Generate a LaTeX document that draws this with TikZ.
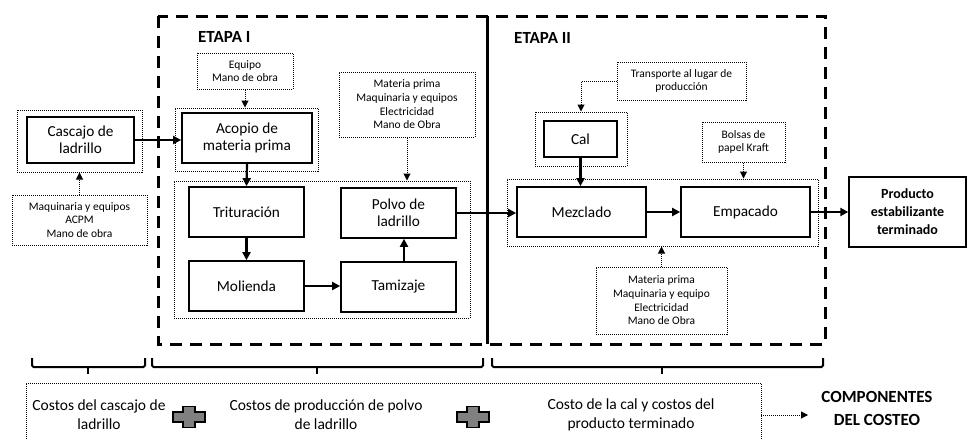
\documentclass[tikz,border=0pt]{standalone}
\usepackage{fontspec}
\setmainfont{Carlito}
\usetikzlibrary{arrows.meta}
\begin{document}
\begin{tikzpicture}[x=1pt,y=-1pt,
  box/.style={draw, line width=1.7pt, fill=white, align=center, inner sep=0pt, font=\fontsize{15.3}{17}\selectfont},
  bbox/.style={box, line width=1.4pt, font=\bfseries\fontsize{14}{18}\selectfont},
  dbox/.style={draw, line width=1pt, dash pattern=on 1pt off 1pt, align=center, inner sep=0pt, font=\fontsize{11.5}{13.7}\selectfont},
  grp/.style={draw, line width=1pt, dash pattern=on 1pt off 1pt, inner sep=0pt},
  arr/.style={line width=2.2pt, -{Triangle[length=8pt,width=8pt]}},
  darr/.style={line width=1pt, dash pattern=on 1pt off 1pt, -{Triangle[length=7pt,width=7pt]}},
  frame/.style={line width=3pt, dash pattern=on 12pt off 8pt},
  brace/.style={line width=2pt, rounded corners=1.5pt},
  lbl/.style={align=center, inner sep=0pt, font=\fontsize{15.5}{19}\selectfont},
  plussign/.pic={\filldraw[fill=gray, line width=1.2pt] (-16,-5)--(-6,-5)--(-6,-10.5)--(6,-10.5)--(6,-5)--(16,-5)--(16,5)--(6,5)--(6,10.5)--(-6,10.5)--(-6,5)--(-16,5)--cycle;}
]
\useasboundingbox (0,0) rectangle (973,439);

% stage frames
\draw[frame] (158,16) rectangle (825,344);
\draw[line width=3pt] (487,16) -- (487,344);
\node[anchor=west, inner sep=0pt, font=\bfseries\fontsize{17}{20}\selectfont] (e1) at (198,37) {ETAPA I};
\node[anchor=west, inner sep=0pt, font=\bfseries\fontsize{17}{20}\selectfont] (e2) at (514,38) {ETAPA II};

% groups (dotted)
\node[grp, minimum width=125pt, minimum height=62pt] (cascOuter) at (79.5,141) {};
\node[grp, minimum width=143pt, minimum height=63pt] (acopOuter) at (246.5,139.5) {};
\node[grp, minimum width=296pt, minimum height=137pt] (grp1) at (322,249.5) {};
\node[grp, minimum width=92pt, minimum height=54pt] (calOuter) at (581,139) {};
\node[grp, minimum width=311pt, minimum height=67pt] (grp2) at (662.5,212.5) {};

% process boxes
\node[box, minimum width=107pt, minimum height=46pt] (casc) at (80.5,140) {Cascajo de\\ladrillo};
\node[box, minimum width=130pt, minimum height=50pt] (acop) at (247,138) {Acopio de\\materia prima};
\node[box, minimum width=115pt, minimum height=50pt] (trit) at (246.5,212) {Trituración};
\node[box, minimum width=115pt, minimum height=50pt] (mol) at (246.5,286) {Molienda};
\node[box, minimum width=115pt, minimum height=50pt] (polvo) at (398.5,213) {Polvo de\\ladrillo};
\node[box, minimum width=115pt, minimum height=50pt] (tam) at (398.5,287) {Tamizaje};
\node[box, minimum width=73pt, minimum height=36pt] (cal) at (580.5,139) {Cal};
\node[box, minimum width=129pt, minimum height=50pt] (mezc) at (581.5,212) {Mezclado};
\node[box, minimum width=129pt, minimum height=50pt] (emp) at (745.5,212) {Empacado};
\node[bbox, minimum width=117pt, minimum height=70pt] (prod) at (907.5,212) {Producto\\estabilizante\\terminado};

% cost inputs
\node[dbox, minimum width=135pt, minimum height=50pt] (cascCost) at (79.5,220) {Maquinaria y equipos\\ACPM\\Mano de obra};
\node[dbox, minimum width=96pt, minimum height=36pt] (equipo) at (245,71) {Equipo\\Mano de obra};
\node[dbox, minimum width=136pt, minimum height=65pt] (mp1) at (407,104.5) {Materia prima\\Maquinaria y equipos\\Electricidad\\Mano de Obra};
\node[dbox, minimum width=129pt, minimum height=38pt] (trans) at (681.5,81) {Transporte al lugar de\\producción};
\node[dbox, minimum width=83pt, minimum height=40pt] (bolsas) at (743.5,142) {Bolsas de\\papel Kraft};
\node[dbox, minimum width=131pt, minimum height=67pt] (mp2) at (661.5,300.5) {Materia prima\\Maquinaria y equipo\\Electricidad\\Mano de Obra};

% flow arrows
\draw[arr] (casc.east) -- (casc.east -| acop.west);
\draw[arr] (acop.south) -- (trit.north);
\draw[arr] (trit.south) -- (mol.north);
\draw[arr] (mol.east) -- (mol.east -| tam.west);
\draw[arr] ([xshift=5.5pt]tam.north) -- ([xshift=5.5pt]polvo.south);
\draw[arr] (polvo.east) -- (polvo.east -| mezc.west);
\draw[arr] (cal.south) -- (cal.south |- mezc.north);
\draw[arr] (mezc.east) -- (emp.west);
\draw[arr] (emp.east) -- (prod.west);

% dotted cost arrows
\draw[darr] (cascCost.north) -- (cascOuter.south);
\draw[darr] (equipo.south) -- (equipo.south |- acopOuter.north);
\draw[darr] (mp1.south) -- (mp1.south |- grp1.north);
\draw[darr] (trans.west) -| (calOuter.north);
\draw[darr] (bolsas.south) -- (bolsas.south |- grp2.north);
\draw[darr] (mp2.north) -- (mp2.north |- grp2.south);

% braces
\draw[brace] (32,358) -- (32,367) -- (145,367) -- (145,358);
\draw[line width=2pt] (88,367) -- (88,374);
\draw[brace] (152,358) -- (152,367) -- (483,367) -- (483,358);
\draw[line width=2pt] (317,367) -- (317,374);
\draw[brace] (492,358) -- (492,367) -- (823,367) -- (823,358);
\draw[line width=2pt] (662,367) -- (662,374);

% costing components
\node[grp, minimum width=735pt, minimum height=77pt] (costBox) at (393.5,421.5) {};
\node[lbl] (c1) at (99,414.5) {Costos del cascajo de\\ladrillo};
\pic at (189,417) {plussign};
\node[lbl] (c2) at (326,414.5) {Costos de producción de polvo\\de ladrillo};
\pic at (473,417) {plussign};
\node[lbl] (c3) at (631,414.5) {Costo de la cal y costos del\\producto terminado};
\node[align=center, inner sep=0pt, font=\bfseries\fontsize{17}{23}\selectfont] (comp) at (877,408.5) {COMPONENTES\\DEL COSTEO};
\coordinate (ca) at (761,415);
\coordinate (cb) at (808,415);
\draw[darr] (ca) -- (cb);
\end{tikzpicture}
\end{document}
